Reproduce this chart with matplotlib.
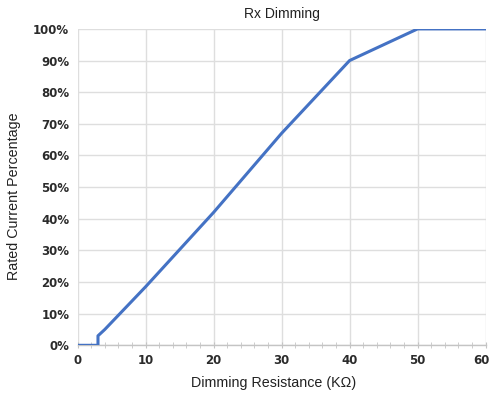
import numpy as np
import matplotlib
matplotlib.use("Agg")
import matplotlib.pyplot as plt
import matplotlib.transforms as mtransforms
from matplotlib.ticker import MultipleLocator, PercentFormatter

# dimming curve: resistance (kOhm) vs rated current (%)
resistance = [0, 3, 3, 4, 6, 8, 10, 20, 30, 40, 50, 60]
current_pct = [0, 0, 3, 5, 9.5, 14, 18.5, 42, 67, 90, 100, 100]

x_ticks = [0, 10, 20, 30, 40, 50, 60]
y_ticks = [0, 10, 20, 30, 40, 50, 60, 70, 80, 90, 100]

fig = plt.figure(figsize=(4.91, 3.96), dpi=100)
ax = fig.add_axes([0.158, 0.128, 0.831, 0.799])

ax.plot(resistance, current_pct, color="#4472C4", linewidth=2.2,
        solid_joinstyle="round", zorder=3)

ax.set_xlim(0, 60)
ax.set_ylim(0, 100)
ax.set_xticks(x_ticks)
ax.set_yticks(y_ticks)
ax.xaxis.set_minor_locator(MultipleLocator(2))
ax.yaxis.set_major_formatter(PercentFormatter(decimals=0))

ax.grid(True, which="major", color="#dedede", linewidth=1.0)
for side in ["top", "right", "left"]:
    ax.spines[side].set_visible(False)
ax.spines["bottom"].set_color("#c4c4c4")
ax.spines["bottom"].set_linewidth(1.0)

ax.tick_params(axis="x", which="both", direction="inout", length=4,
               color="#c4c4c4", labelsize=8.5, labelcolor="#2b2b2b", pad=4)
ax.tick_params(axis="y", length=0, labelsize=8.5, labelcolor="#2b2b2b", pad=6)
for lab in ax.get_xticklabels() + ax.get_yticklabels():
    lab.set_fontweight("bold")

# nudge the last x label so it stays inside the figure
last = ax.get_xticklabels()[-1]
last.set_transform(last.get_transform() +
                   mtransforms.ScaledTranslation(-3 / 72, 0, fig.dpi_scale_trans))

ax.set_title("Rx Dimming", fontsize=10, family="Liberation Sans",
             color="#222222", pad=8)
ax.set_xlabel("Dimming Resistance (KΩ)", fontsize=10.25,
              family="Liberation Sans", color="#222222")
ax.set_ylabel("Rated Current Percentage", fontsize=10.25,
              family="Liberation Sans", color="#222222")
ax.xaxis.set_label_coords(0.481, -0.098)
ax.yaxis.set_label_coords(-0.139, 0.47)

fig.savefig("out.png", dpi=100, facecolor="white")
